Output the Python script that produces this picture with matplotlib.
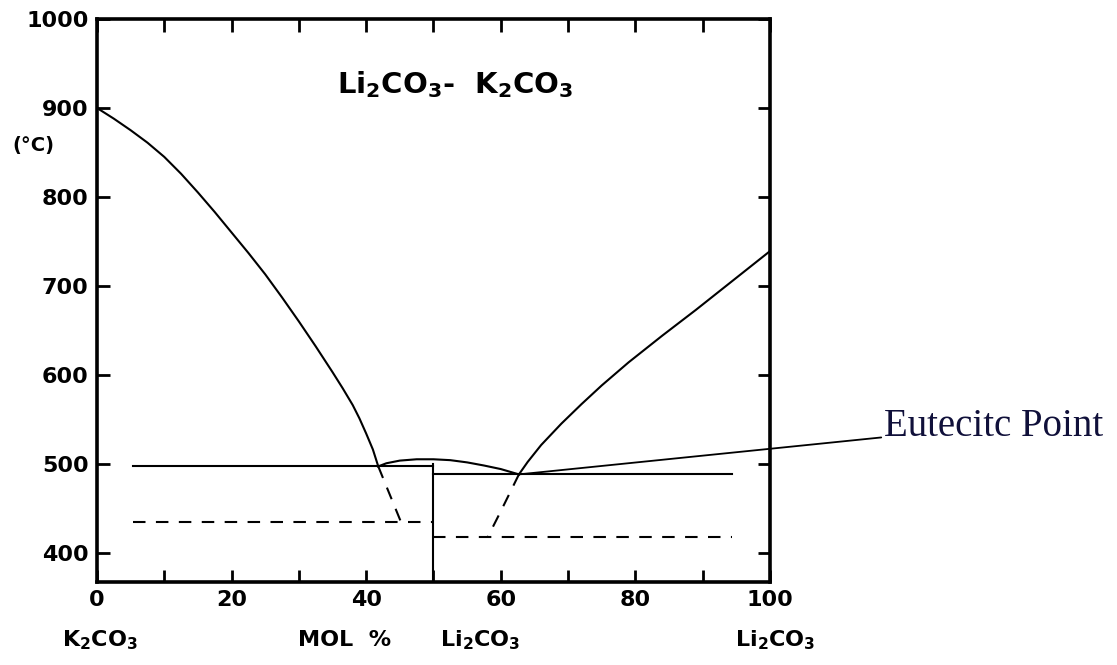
import matplotlib.pyplot as plt

plt.rcParams['font.family'] = 'DejaVu Sans'
plt.rcParams['mathtext.default'] = 'bf'

# liquidus, K2CO3 side (mol % Li2CO3, deg C)
liq_left_x = [0, 2.5, 5, 7.5, 10, 12.5, 15, 17.5, 20, 22.5, 25, 27.5, 30,
              32.5, 35, 36.5, 38, 39, 40, 41, 41.8]
liq_left_y = [900, 888, 875, 861, 845, 826, 805, 783, 760, 737, 713, 687, 660,
              632, 603, 585, 566, 551, 534, 516, 497]

# liquidus, Li2CO3 side
liq_right_x = [62.7, 64, 66, 69, 72, 75, 79, 84, 89, 94, 100]
liq_right_y = [488, 502, 521, 545, 567, 588, 614, 644, 673, 703, 739]

# small dome over the compound
dome_x = [41.8, 43, 45, 47.5, 50, 52.5, 55, 57.5, 60, 62.7]
dome_y = [497, 500.5, 503.5, 505, 505, 504, 501.5, 498, 494, 488]

# solidus lines
sol_left_x = [5.4, 50]
sol_left_y = [497, 497]
sol_right_x = [50, 94.3]
sol_right_y = [488, 488]
vert_x = [50, 50]
vert_y = [367, 500]

# dashed (metastable) lines
dash_left_x = [5.4, 50]
dash_left_y = [434, 434]
dash_right_x = [50, 94.3]
dash_right_y = [418, 418]
dcurve_left_x = [41.8, 43.2, 45.2]
dcurve_left_y = [497, 471, 434]
dcurve_right_x = [62.7, 60.1, 58.1]
dcurve_right_y = [488, 448, 418]

eutectic = (62.7, 488)

fig = plt.figure(figsize=(11.17, 6.65), dpi=100)
ax = fig.add_axes([0.0868, 0.1248, 0.6025, 0.8466])

lw = 1.5
ax.plot(liq_left_x, liq_left_y, color='black', lw=lw)
ax.plot(liq_right_x, liq_right_y, color='black', lw=lw)
ax.plot(dome_x, dome_y, color='black', lw=lw)
ax.plot(sol_left_x, sol_left_y, color='black', lw=lw)
ax.plot(sol_right_x, sol_right_y, color='black', lw=lw)
ax.plot(vert_x, vert_y, color='black', lw=lw)
for xs, ys in [(dash_left_x, dash_left_y), (dash_right_x, dash_right_y),
               (dcurve_left_x, dcurve_left_y), (dcurve_right_x, dcurve_right_y)]:
    ax.plot(xs, ys, color='black', lw=lw, linestyle=(0, (6, 5)))

ax.set_xlim(0, 100)
ax.set_ylim(367, 1000)
ax.set_xticks(range(0, 101, 20))
ax.set_xticks(range(0, 101, 10), minor=True)
ax.set_yticks(range(400, 1001, 100))
ax.tick_params(which='both', direction='in', top=True, right=True,
               length=9, width=2, labelsize=16, pad=6)
for lab in ax.get_xticklabels() + ax.get_yticklabels():
    lab.set_fontweight('bold')
for s in ax.spines.values():
    s.set_linewidth(2.6)

ax.text(0.532, 0.883, r'Li$_2$CO$_3$-  K$_2$CO$_3$', transform=ax.transAxes,
        ha='center', va='center', fontsize=21, fontweight='bold')

fig.text(12 / 1117, 1 - 145 / 665, '(°C)', fontsize=14, fontweight='bold',
         ha='left', va='center')

ylab = 1 - 640 / 665
fig.text(100 / 1117, ylab, r'K$_2$CO$_3$', fontsize=16, fontweight='bold', ha='center', va='center')
fig.text(345 / 1117, ylab, 'MOL  %', fontsize=16, fontweight='bold', ha='center', va='center')
fig.text(480 / 1117, ylab, r'Li$_2$CO$_3$', fontsize=16, fontweight='bold', ha='center', va='center')
fig.text(775 / 1117, ylab, r'Li$_2$CO$_3$', fontsize=16, fontweight='bold', ha='center', va='center')

ax.annotate('Eutecitc Point', xy=eutectic, xycoords='data',
            xytext=(884, 665 - 426), textcoords='figure pixels',
            fontsize=28, family='Liberation Serif', color='#10103a',
            ha='left', va='center', annotation_clip=False,
            arrowprops=dict(arrowstyle='-', color='black', lw=1.3,
                            shrinkA=0, shrinkB=0))

fig.savefig('out.png', dpi=100)
